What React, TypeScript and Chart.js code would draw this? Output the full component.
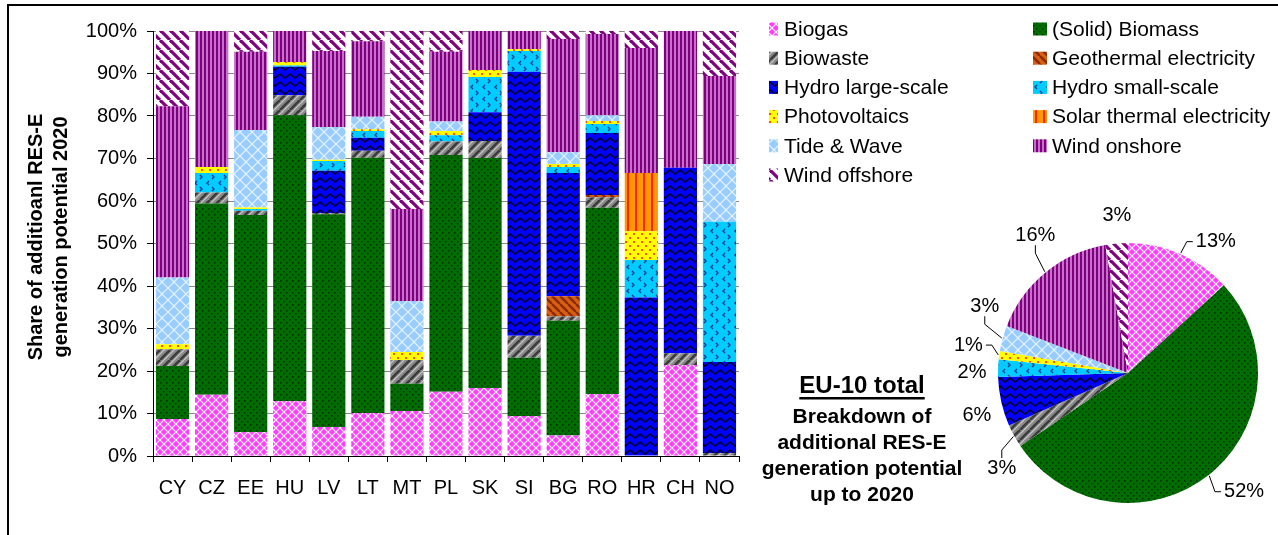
import React, { useEffect, useRef } from 'react';
import { Chart, registerables } from 'chart.js';

Chart.register(...registerables);

const W = 1278;
const H = 535;
const FONT = '"Liberation Sans", Arial, Helvetica, sans-serif';

// Countries on the category axis
const countries = ['CY', 'CZ', 'EE', 'HU', 'LV', 'LT', 'MT', 'PL', 'SK', 'SI', 'BG', 'RO', 'HR', 'CH', 'NO'];

// Technology names (stacking order, bottom to top)
const seriesNames = [
  'Biogas',
  '(Solid) Biomass',
  'Biowaste',
  'Geothermal electricity',
  'Hydro large-scale',
  'Hydro small-scale',
  'Photovoltaics',
  'Solar thermal electricity',
  'Tide & Wave',
  'Wind onshore',
  'Wind offshore',
];

// Share of additional RES-E generation potential 2020 per country (%)
const biogas = [8.7, 14.4, 5.6, 12.9, 6.8, 10.1, 10.6, 15.1, 16.0, 9.4, 4.8, 14.6, 0, 21.4, 0];
const solidBiomass = [12.5, 45.0, 51.1, 67.3, 50.1, 60.1, 6.4, 55.7, 54.1, 13.7, 27.0, 43.8, 0, 0, 0];
const biowaste = [3.9, 2.6, 1.0, 4.7, 0.3, 1.6, 5.6, 3.2, 4.0, 5.2, 1.0, 2.5, 0, 2.8, 0.7];
const geothermal = [0, 0, 0, 0, 0, 0, 0, 0, 0, 0, 4.8, 0.5, 0, 0, 0];
const hydroLarge = [0, 0, 0, 6.7, 9.9, 3.1, 0, 0, 6.8, 62.1, 29.0, 14.6, 37.3, 43.6, 21.4];
const hydroSmall = [0, 4.6, 0.4, 0.3, 2.3, 1.6, 0, 1.5, 8.3, 4.9, 1.4, 2.1, 8.8, 0, 33.0];
const photovoltaics = [1.2, 1.4, 0.4, 0.8, 0.3, 0.4, 1.9, 1.0, 1.6, 0.4, 0.7, 0.7, 6.8, 0, 0];
const solarThermal = [0, 0, 0, 0, 0, 0, 0, 0, 0, 0, 0, 0, 13.7, 0, 0];
const tideWave = [15.7, 0, 18.2, 0, 7.7, 2.9, 12.0, 2.2, 0, 0, 2.8, 1.4, 0, 0, 13.6];
const windOnshore = [40.3, 32.0, 18.4, 7.3, 17.9, 17.8, 21.6, 16.4, 9.2, 4.3, 26.6, 19.1, 29.4, 32.2, 20.7];
const windOffshore = [17.7, 0, 4.9, 0, 4.7, 2.4, 41.9, 4.9, 0, 0, 1.9, 0.7, 4.0, 0, 10.6];

const seriesData = [
  biogas, solidBiomass, biowaste, geothermal, hydroLarge, hydroSmall,
  photovoltaics, solarThermal, tideWave, windOnshore, windOffshore,
];

// EU-10 total breakdown (%), same order as seriesNames
const eu10Share = [13.2, 52.3, 2.9, 0, 6.1, 2.2, 1.0, 0, 3.2, 16.3, 2.8];
// Pie label placement: angular nudge (deg) from the slice middle, and distance from centre
const pieLabelNudge = [10, -6, -8, 0, -3, -2, 2, 0, 9.5, 5.5, 1];
const pieLabelDist = [158, 166, 158, 0, 157, 156, 162, 0, 158, 166, 158];
const pieLeader = [true, true, true, false, false, false, true, false, true, true, false];

const yTitleLines = ['Share of additioanl RES-E', 'generation potential 2020'];
const captionTitle = 'EU-10 total';
const captionLines = ['Breakdown of', 'additional RES-E', 'generation potential', 'up to 2020'];

function tile(w: number, h: number, paint: (g: CanvasRenderingContext2D) => void) {
  const c = document.createElement('canvas');
  c.width = w;
  c.height = h;
  const g = c.getContext('2d')!;
  paint(g);
  return c;
}

// Diagonal lines across a square tile; dir 1 = "\", -1 = "/"
function stripes(g: CanvasRenderingContext2D, size: number, dir: number, color: string, width: number, shift = 0) {
  g.strokeStyle = color;
  g.lineWidth = width;
  for (let k = -2; k <= 2; k++) {
    const o = k * size + shift;
    g.beginPath();
    if (dir === 1) {
      g.moveTo(o, 0);
      g.lineTo(o + size, size);
    } else {
      g.moveTo(o, size);
      g.lineTo(o + size, 0);
    }
    g.stroke();
  }
}

function makePatterns(ctx: CanvasRenderingContext2D): CanvasPattern[] {
  const mk = (c: HTMLCanvasElement) => ctx.createPattern(c, 'repeat')!;
  return [
    // Biogas
    mk(tile(8, 8, (g) => {
      g.fillStyle = '#ff3cff';
      g.fillRect(0, 0, 8, 8);
      stripes(g, 8, 1, '#ffffff', 1.2);
      stripes(g, 8, -1, '#ffffff', 1.2);
    })),
    // (Solid) Biomass
    mk(tile(6, 6, (g) => {
      g.fillStyle = '#006d00';
      g.fillRect(0, 0, 6, 6);
      g.fillStyle = '#002a00';
      g.fillRect(1, 1, 1.5, 1.5);
      g.fillRect(4, 4, 1.5, 1.5);
    })),
    // Biowaste
    mk(tile(10, 10, (g) => {
      g.fillStyle = '#8a8a8a';
      g.fillRect(0, 0, 10, 10);
      stripes(g, 10, -1, '#3c3c3c', 2.6);
      stripes(g, 10, -1, '#c8c8c8', 1.2, 4);
    })),
    // Geothermal electricity
    mk(tile(8, 8, (g) => {
      g.fillStyle = '#d65f12';
      g.fillRect(0, 0, 8, 8);
      stripes(g, 8, 1, '#8b2a00', 2.4);
    })),
    // Hydro large-scale
    mk(tile(10, 8, (g) => {
      g.fillStyle = '#0000ff';
      g.fillRect(0, 0, 10, 8);
      g.strokeStyle = '#000022';
      g.lineWidth = 1.6;
      g.beginPath();
      g.moveTo(-5, 6);
      g.lineTo(0, 2);
      g.lineTo(5, 6);
      g.lineTo(10, 2);
      g.lineTo(15, 6);
      g.stroke();
    })),
    // Hydro small-scale
    mk(tile(12, 12, (g) => {
      g.fillStyle = '#00ccff';
      g.fillRect(0, 0, 12, 12);
      g.strokeStyle = '#0a3d8f';
      g.lineWidth = 1.4;
      g.beginPath();
      g.moveTo(5, 1);
      g.lineTo(3, 3);
      g.lineTo(5, 5);
      g.moveTo(8, 7);
      g.lineTo(10, 9);
      g.lineTo(8, 11);
      g.stroke();
    })),
    // Photovoltaics
    mk(tile(8, 8, (g) => {
      g.fillStyle = '#ffff00';
      g.fillRect(0, 0, 8, 8);
      g.fillStyle = '#ff2a00';
      g.beginPath();
      g.arc(2, 2, 1.1, 0, Math.PI * 2);
      g.arc(6, 6, 1.1, 0, Math.PI * 2);
      g.fill();
    })),
    // Solar thermal electricity
    mk(tile(8, 8, (g) => {
      g.fillStyle = '#ff9900';
      g.fillRect(0, 0, 8, 8);
      g.fillStyle = '#ff2200';
      g.fillRect(3, 0, 2, 8);
    })),
    // Tide & Wave
    mk(tile(12, 12, (g) => {
      g.fillStyle = '#99ccff';
      g.fillRect(0, 0, 12, 12);
      stripes(g, 12, 1, '#eaf4ff', 1.2);
      stripes(g, 12, -1, '#eaf4ff', 1.2);
    })),
    // Wind onshore
    mk(tile(4, 4, (g) => {
      g.fillStyle = '#c86ecb';
      g.fillRect(0, 0, 4, 4);
      g.fillStyle = '#7f007f';
      g.fillRect(0, 0, 2, 4);
    })),
    // Wind offshore
    mk(tile(10, 10, (g) => {
      g.fillStyle = '#ffffff';
      g.fillRect(0, 0, 10, 10);
      stripes(g, 10, 1, '#800080', 3.2);
    })),
  ];
}

export default function App() {
  const barRef = useRef<HTMLCanvasElement>(null);
  const pieRef = useRef<HTMLCanvasElement>(null);

  useEffect(() => {
    const bc = barRef.current!;
    const pc = pieRef.current!;
    const barPatterns = makePatterns(bc.getContext('2d')!);
    const piePatterns = makePatterns(pc.getContext('2d')!);

    // Frame, axis title, legend and EU-10 caption
    const decor = {
      id: 'decor',
      afterDraw(chart: any) {
        const ctx: CanvasRenderingContext2D = chart.ctx;
        ctx.save();
        ctx.strokeStyle = '#000';
        ctx.lineWidth = 2;
        ctx.beginPath();
        ctx.moveTo(8, H);
        ctx.lineTo(8, 5);
        ctx.lineTo(W, 5);
        ctx.stroke();

        ctx.fillStyle = '#000';
        ctx.font = `bold 20px ${FONT}`;
        ctx.textAlign = 'center';
        ctx.textBaseline = 'alphabetic';
        yTitleLines.forEach((t, i) => {
          ctx.save();
          ctx.translate(42 + 25 * i, 237);
          ctx.rotate(-Math.PI / 2);
          ctx.fillText(t, 0, 0);
          ctx.restore();
        });

        // legend, two columns
        ctx.font = `21px ${FONT}`;
        ctx.textAlign = 'left';
        ctx.textBaseline = 'middle';
        seriesNames.forEach((name, k) => {
          const row = Math.floor(k / 2);
          const col = k % 2;
          const cy = 29 + row * 29.2;
          const sx = col === 0 ? 769 : 1033;
          const sw = col === 0 ? 9 : 14;
          const tx = col === 0 ? 784 : 1052;
          ctx.fillStyle = barPatterns[k];
          ctx.fillRect(sx, cy - 6.5, sw, 13);
          ctx.fillStyle = '#000';
          ctx.fillText(name, tx, cy + 1);
        });

        // caption beside the pie
        const cx = 862;
        ctx.textAlign = 'center';
        ctx.textBaseline = 'alphabetic';
        ctx.font = `bold 24px ${FONT}`;
        ctx.fillText(captionTitle, cx, 393);
        const tw = ctx.measureText(captionTitle).width;
        ctx.fillRect(cx - tw / 2, 397, tw, 2.5);
        ctx.font = `bold 21px ${FONT}`;
        captionLines.forEach((t, i) => ctx.fillText(t, cx, 423 + i * 26));
        ctx.restore();
      },
    };

    const bar = new Chart(bc, {
      type: 'bar',
      data: {
        labels: countries,
        datasets: seriesNames.map((name, i) => ({
          label: name,
          data: seriesData[i],
          backgroundColor: barPatterns[i],
          borderWidth: 0,
          stack: 's',
        })),
      },
      options: {
        responsive: false,
        animation: false,
        events: [],
        layout: { padding: { left: 0, top: 31, right: W - 739, bottom: 0 } },
        datasets: { bar: { barPercentage: 0.85, categoryPercentage: 1 } },
        plugins: {
          legend: { display: false },
          title: { display: false },
          tooltip: { enabled: false },
        },
        scales: {
          x: {
            stacked: true,
            grid: { display: true, drawOnChartArea: false, drawTicks: true, tickLength: 6, tickColor: '#000', offset: true },
            border: { color: '#000', width: 1 },
            ticks: { font: { family: FONT, size: 20 }, color: '#000', padding: 14, maxRotation: 0, autoSkip: false },
            afterFit: (s: any) => { s.height = 79; },
          },
          y: {
            stacked: true,
            min: 0,
            max: 100,
            ticks: {
              stepSize: 10,
              callback: (v: any) => `${v}%`,
              font: { family: FONT, size: 20 },
              color: '#000',
              padding: 10,
            },
            grid: { color: '#888', tickColor: '#000', tickLength: 6 },
            border: { color: '#000', width: 1 },
            afterFit: (s: any) => { s.width = 153; },
          },
        },
      } as any,
      plugins: [decor],
    });

    // Percent labels with leader lines around the pie
    const pieLabels = {
      id: 'pieLabels',
      afterDatasetsDraw(chart: any) {
        const ctx: CanvasRenderingContext2D = chart.ctx;
        const meta = chart.getDatasetMeta(0);
        ctx.save();
        ctx.font = `20px ${FONT}`;
        ctx.fillStyle = '#000';
        ctx.strokeStyle = '#000';
        ctx.lineWidth = 1;
        ctx.textAlign = 'center';
        ctx.textBaseline = 'middle';
        meta.data.forEach((arc: any, i: number) => {
          const v = eu10Share[i];
          if (!v) return;
          const { x, y, startAngle, endAngle, outerRadius } = arc.getProps(
            ['x', 'y', 'startAngle', 'endAngle', 'outerRadius'], true);
          const mid = (startAngle + endAngle) / 2;
          const la = mid + (pieLabelNudge[i] * Math.PI) / 180;
          const lx = x + pieLabelDist[i] * Math.cos(la);
          const ly = y + pieLabelDist[i] * Math.sin(la);
          const txt = `${Math.round(v)}%`;
          ctx.fillText(txt, lx, ly);
          if (!pieLeader[i]) return;
          const tw = ctx.measureText(txt).width;
          const p0x = x + (outerRadius + 1) * Math.cos(mid);
          const p0y = y + (outerRadius + 1) * Math.sin(mid);
          ctx.beginPath();
          ctx.moveTo(p0x, p0y);
          if (Math.abs(p0x - lx) <= tw / 2 + 6) {
            const dirY = p0y < ly ? -1 : 1;
            const ey = ly + dirY * 10;
            ctx.lineTo(lx, ey + dirY * 8);
            ctx.lineTo(lx, ey);
          } else {
            const dirX = p0x < lx ? -1 : 1;
            const ex = lx + dirX * (tw / 2 + 3);
            ctx.lineTo(ex + dirX * 6, ly);
            ctx.lineTo(ex, ly);
          }
          ctx.stroke();
        });
        ctx.restore();
      },
    };

    const pie = new Chart(pc, {
      type: 'pie',
      data: {
        labels: seriesNames,
        datasets: [{ data: eu10Share, backgroundColor: piePatterns, borderWidth: 0 }],
      },
      options: {
        responsive: false,
        animation: false,
        events: [],
        layout: { padding: { left: 58, right: 20, top: 43, bottom: 32 } },
        plugins: { legend: { display: false }, tooltip: { enabled: false } },
      } as any,
      plugins: [pieLabels],
    });

    return () => {
      bar.destroy();
      pie.destroy();
    };
  }, []);

  return (
    <div style={{ position: 'absolute', left: 0, top: 0, width: W, height: H, background: '#fff' }}>
      <canvas ref={barRef} width={W} height={H}
        style={{ position: 'absolute', left: 0, top: 0, width: W, height: H }} />
      <canvas ref={pieRef} width={338} height={335}
        style={{ position: 'absolute', left: 940, top: 200, width: 338, height: 335 }} />
    </div>
  );
}
